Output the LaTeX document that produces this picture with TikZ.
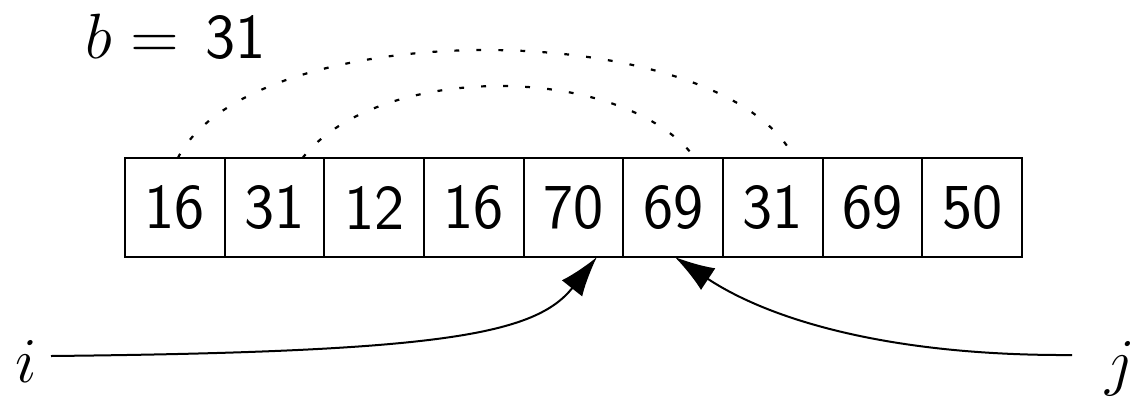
\documentclass[tikz,border=0pt]{standalone}
\usetikzlibrary{arrows.meta}

% scalable Computer Modern math letters and operators for large labels
\DeclareFontShape{OML}{cmm}{m}{it}{<-> cmmi12}{}
\DeclareFontShape{OT1}{cmr}{m}{n}{<-> cmr12}{}

\tikzset{
  cell/.style={draw, line width=1pt, minimum width=49.83pt, minimum height=49.5pt,
    inner sep=0pt, outer sep=0pt, font=\sffamily\fontsize{32}{38}\selectfont},
  lbl/.style={inner sep=0pt, font=\fontsize{32}{38}\selectfont},
  link/.style={line width=1.1pt, dash pattern=on 2.4pt off 8.6pt},
  pointer/.style={line width=1pt, -{Latex[length=20pt,width=13pt]}}
}

\begin{document}
\begin{tikzpicture}[x=0.5pt, y=-0.5pt]
  \useasboundingbox (0,0) rectangle (1136,398);

  % the array cells
  \foreach \v [count=\k from 0] in {16,31,12,16,70,69,31,69,50} {
    \node[cell] (c\k) at ({125+99.67*(\k+0.5)}, 207.5) {\v};
  }

  % pivot value
  \node[lbl, anchor=base west] (b) at (85,58)
    {$b \mathrel{\hspace{2.5pt}=\hspace{6pt}} \textsf{31}$};

  % index labels
  \node[lbl, anchor=base] (i) at (26,382) {$i$};
  \node[lbl, anchor=base] (j) at (1120,383) {$j$};
  \coordinate (is) at (51,356);
  \coordinate (js) at (1072,355);

  % dotted links above the array
  \draw[link] ([xshift=1.5pt]c0.north) .. controls (252,14) and (720,14) .. ([xshift=10.8pt]c6.north);
  \draw[link] ([xshift=14pt]c1.north) .. controls (378,62) and (622,62) .. ([xshift=11pt]c5.north);

  % index pointers
  \draw[pointer] (is) .. controls (440,352) and (535,335) .. ([xshift=11.7pt]c4.south);
  \draw[pointer] (js) .. controls (890,356) and (770,320) .. ([xshift=0.8pt]c5.south);
\end{tikzpicture}
\end{document}
